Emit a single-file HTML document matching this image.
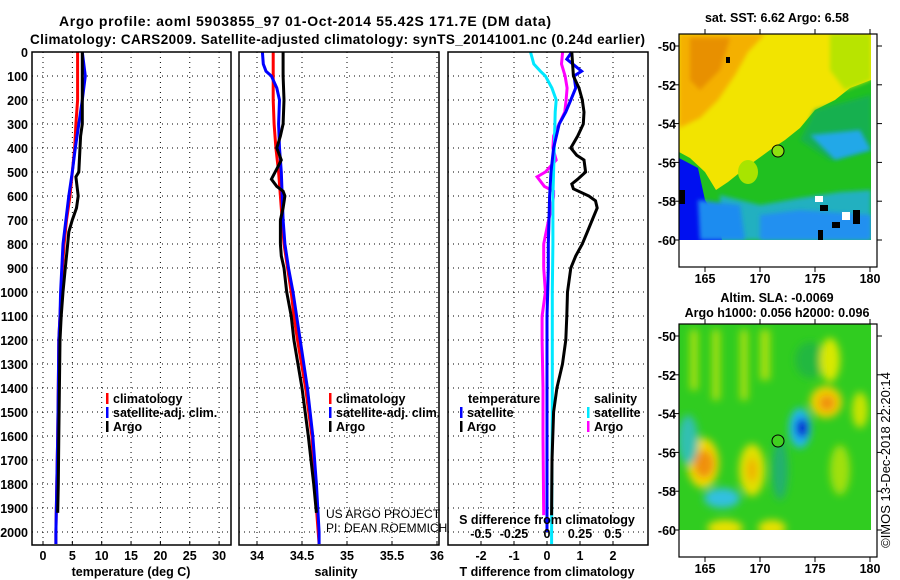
<!DOCTYPE html>
<html><head><meta charset="utf-8"><title>Argo profile</title>
<style>
html,body{margin:0;padding:0;background:#fff;}
svg{display:block;font-family:"Liberation Sans",sans-serif;}
.b{font-weight:bold;font-size:12.5px;}
</style></head>
<body>
<svg id="c" width="900" height="580" viewBox="0 0 900 580" xmlns="http://www.w3.org/2000/svg">
<defs>
<filter id="bl" x="-20%" y="-20%" width="140%" height="140%"><feGaussianBlur stdDeviation="4"/></filter>
<filter id="bl2" x="-20%" y="-20%" width="140%" height="140%"><feGaussianBlur stdDeviation="2"/></filter>
<clipPath id="m1"><rect x="679" y="34" width="192" height="206"/></clipPath>
<clipPath id="m2"><rect x="679" y="324" width="192" height="206"/></clipPath>
</defs>
<text x="305" y="26" text-anchor="middle" font-weight="bold" font-size="14" textLength="492">Argo profile: aoml 5903855_97 01-Oct-2014 55.42S 171.7E (DM data)</text>
<text x="30" y="44" font-weight="bold" font-size="13.5" textLength="615">Climatology: CARS2009. Satellite-adjusted climatology: synTS_20141001.nc (0.24d earlier)</text>

<g id="grid"></g>
<g id="series"></g>
<g id="axes"></g>

<!-- SST map -->
<g>
<g clip-path="url(#m1)">
<rect x="679" y="34" width="192" height="206" fill="#20c020"/>
<polygon points="679,34 871,34 871,80 850,88 835,100 815,110 800,128 785,140 770,150 748,166 728,182 716,190 705,172 690,158 679,152" fill="#f2e400"/>
<polygon points="679,34 765,34 748,52 735,75 718,100 700,118 679,128" fill="#f4b000" filter="url(#bl2)"/>
<polygon points="690,38 730,38 720,70 700,90 690,80" fill="#e89000" filter="url(#bl2)"/>
<polygon points="830,34 871,34 871,80 845,90 830,70" fill="#b8e400" filter="url(#bl2)"/>
<polygon points="815,110 871,95 871,150 830,160 800,140" fill="#18b050" filter="url(#bl2)"/>
<polygon points="810,135 860,130 871,150 835,160" fill="#20a8e8" filter="url(#bl2)"/>
<polygon points="720,195 760,205 800,198 840,192 871,190 871,240 720,240" fill="#20b0c0" filter="url(#bl2)"/>
<polygon points="760,215 800,210 871,215 871,240 760,240" fill="#2090f0" filter="url(#bl2)"/>
<polygon points="679,158 698,168 705,200 718,222 722,240 679,240" fill="#0010f0"/>
<polygon points="698,200 740,205 745,240 700,240" fill="#1e8cf0" filter="url(#bl2)"/>
<ellipse cx="748" cy="172" rx="10" ry="12" fill="#a8e400"/>
<rect x="679" y="190" width="6" height="14" fill="#000"/>
<rect x="820" y="205" width="8" height="6" fill="#000"/>
<rect x="832" y="222" width="8" height="6" fill="#000"/>
<rect x="853" y="210" width="7" height="14" fill="#000"/>
<rect x="818" y="230" width="5" height="10" fill="#000"/>
<rect x="815" y="196" width="8" height="6" fill="#fff"/>
<rect x="842" y="212" width="8" height="8" fill="#fff"/>
<rect x="726" y="57" width="4" height="6" fill="#000"/>
</g>
<rect x="679" y="34" width="198" height="233" fill="none" stroke="#000" stroke-width="1.2"/>
<circle cx="778" cy="151" r="6" fill="#8ee010" stroke="#000" stroke-width="1"/>
<text x="777" y="22" text-anchor="middle" class="b">sat. SST: 6.62 Argo: 6.58</text>
</g>

<!-- SLA map -->
<g>
<g clip-path="url(#m2)">
<rect x="679" y="324" width="192" height="206" fill="#30cc20"/>
<g filter="url(#bl)">
<rect x="690" y="330" width="8" height="60" fill="#a8e010"/>
<rect x="712" y="330" width="8" height="70" fill="#a8e010"/>
<rect x="740" y="330" width="8" height="70" fill="#a8e010"/>
<rect x="760" y="330" width="10" height="50" fill="#a8e010"/>
<ellipse cx="810" cy="360" rx="15" ry="18" fill="#22b840"/>
<ellipse cx="830" cy="360" rx="10" ry="22" fill="#d8e800"/>
<ellipse cx="826" cy="402" rx="16" ry="16" fill="#f0d000"/>
<ellipse cx="827" cy="403" rx="8" ry="8" fill="#f09010"/>
<ellipse cx="860" cy="410" rx="8" ry="18" fill="#c8e400"/>
<ellipse cx="800" cy="428" rx="11" ry="20" fill="#20b8f0"/>
<ellipse cx="802" cy="428" rx="6" ry="10" fill="#0000d0"/>
<ellipse cx="703" cy="463" rx="16" ry="25" fill="#f0d800"/>
<ellipse cx="704" cy="464" rx="10" ry="14" fill="#f09010"/>
<ellipse cx="752" cy="470" rx="13" ry="26" fill="#e0e000"/>
<ellipse cx="752" cy="470" rx="5" ry="12" fill="#f0b000"/>
<ellipse cx="722" cy="498" rx="18" ry="10" fill="#30c0e0"/>
<ellipse cx="688" cy="440" rx="10" ry="25" fill="#30c0b0"/>
<ellipse cx="725" cy="528" rx="18" ry="8" fill="#e8e000"/>
<ellipse cx="772" cy="528" rx="14" ry="8" fill="#e8e000"/>
<ellipse cx="840" cy="470" rx="10" ry="25" fill="#a0e010"/>
<ellipse cx="780" cy="470" rx="8" ry="30" fill="#20b070"/>
</g>
</g>
<rect x="679" y="324" width="198" height="233" fill="none" stroke="#000" stroke-width="1.2"/>
<circle cx="778" cy="441" r="6" fill="#40d020" stroke="#000" stroke-width="1"/>
<text x="777" y="302" text-anchor="middle" class="b">Altim. SLA: -0.0069</text>
<text x="777" y="317" text-anchor="middle" class="b">Argo h1000: 0.056 h2000: 0.096</text>
</g>
<text transform="translate(890,460) rotate(-90)" text-anchor="middle" font-size="13">©IMOS 13-Dec-2018 22:20:14</text>
<text x="326" y="518" font-size="12">US ARGO PROJECT</text>
<text x="326" y="532" font-size="12">PI: DEAN ROEMMICH</text>
</svg>
<script>
// ---- data ----
const tDepth = [0,100,200,300,400,500,600,700,800,900,1000,1100,1200,1400,1600,1800,2000,2050];
const tClim  = [5.9,5.9,5.9,5.6,5.4,5.0,4.6,4.0,3.6,3.3,3.1,2.9,2.7,2.6,2.5,2.35,2.2,2.2];
const tSat   = [6.7,7.2,6.7,6.1,5.5,5.0,4.4,3.9,3.4,3.2,3.0,2.9,2.7,2.6,2.5,2.35,2.2,2.2];
const aDepth = [0,100,200,300,350,400,500,520,600,650,700,750,800,900,1000,1100,1200,1400,1600,1800,1920];
const tArgo  = [6.7,6.7,6.7,6.7,6.4,6.3,6.1,5.6,6.0,5.7,5.0,4.4,4.2,3.8,3.4,3.1,2.9,2.8,2.7,2.6,2.5];
const sDepth = [0,50,80,100,150,200,300,400,500,600,700,800,900,1000,1100,1200,1400,1600,1800,2000,2050];
const sClim  = [34.18,34.18,34.18,34.18,34.18,34.18,34.19,34.21,34.24,34.26,34.28,34.30,34.34,34.38,34.41,34.45,34.54,34.61,34.64,34.68,34.69];
const sSat   = [34.06,34.07,34.10,34.16,34.22,34.25,34.24,34.25,34.27,34.28,34.29,34.31,34.35,34.40,34.44,34.48,34.56,34.62,34.66,34.69,34.69];
const saDepth= [0,100,200,300,350,400,450,480,530,560,580,600,650,700,800,850,900,1000,1100,1200,1400,1600,1800,1920];
const sArgo  = [34.29,34.29,34.30,34.29,34.26,34.22,34.27,34.23,34.16,34.22,34.29,34.31,34.29,34.26,34.26,34.27,34.30,34.33,34.38,34.41,34.50,34.57,34.63,34.66];
const dtDepth= [0,30,80,100,150,200,250,300,400,500,600,700,800,900,1000,1100,1200,1400,1600,1800,2000];
const dtSat  = [0.75,0.6,1.05,0.82,0.87,0.72,0.57,0.37,0.2,0.12,0.08,0.06,0.04,0.04,0.02,0.0,0.0,0.0,0.0,0.0,0.0];
const dtaDepth=[0,100,150,200,250,300,350,400,430,450,500,530,550,570,600,620,650,700,750,800,850,900,1000,1100,1200,1300,1400,1500,1700,1930];
const dtArgo = [0.75,0.8,0.97,1.07,1.12,1.1,0.93,0.72,0.9,1.12,1.17,0.93,0.75,0.8,1.27,1.47,1.52,1.37,1.22,1.07,0.87,0.72,0.62,0.6,0.57,0.47,0.3,0.2,0.15,0.14];
const dsDepth= [0,50,80,100,150,200,250,300,400,500,600,800,1000,1500,2000,2050];
const dsSat  = [-0.125,-0.1,-0.05,-0.012,0.037,0.07,0.062,0.06,0.055,0.05,0.045,0.045,0.04,0.04,0.035,0.035];
const dsaDepth=[0,50,100,150,200,250,300,350,400,450,500,520,560,580,600,650,700,800,900,1000,1100,1200,1400,1600,1930];
const dsArgo = [0.118,0.11,0.137,0.152,0.145,0.135,0.092,0.05,0.045,0.07,-0.012,-0.075,-0.02,0.05,0.05,0.035,0.012,-0.025,-0.025,-0.012,-0.037,-0.037,-0.03,-0.03,-0.025];
const depthTicks = [0,100,200,300,400,500,600,700,800,900,1000,1100,1200,1300,1400,1500,1600,1700,1800,1900,2000];
const tTicks = [0,5,10,15,20,25,30];
const sTicks = [34,34.5,35,35.5,36];
const dTicks = [-2,-1,0,1,2];
const dsTicks = [-0.5,-0.25,0,0.25,0.5];
const dsTickLabels = ['-0.5','-0.25','0','0.25','0.5'];

// ---- scales ----
const TOP=52, BOT=545;
const yD = d => TOP + d*0.24;
const xT = v => 43 + v*5.87;
const xS = v => 257 + (v-34)*90;
const xDT = v => 547 + v*33;
const xDS = v => 547 + v*4*33;
const panels = [
  {name:'temperature-panel', x0:32, x1:231},
  {name:'salinity-panel', x0:239, x1:439},
  {name:'difference-panel', x0:448, x1:648}
];
const NS='http://www.w3.org/2000/svg';
function mk(tag, attrs, parent){const e=document.createElementNS(NS,tag);for(const k in attrs)e.setAttribute(k,attrs[k]);parent.appendChild(e);return e;}
const G=document.getElementById('grid'), S=document.getElementById('series'), A=document.getElementById('axes');

function grid(p, xs, f){
  xs.forEach(v=>{const x=f(v);if(x>p.x0+1&&x<p.x1-1){const l=mk('line',{x1:x,x2:x,y1:TOP,y2:BOT,stroke:'#000','stroke-width':1,'stroke-dasharray':'1,4'},G);

}});
  depthTicks.forEach(d=>{const y=yD(d);if(y>TOP+1){const l=mk('line',{x1:p.x0,x2:p.x1,y1:y,y2:y,stroke:'#000','stroke-width':1,'stroke-dasharray':'1,4'},G);

}});
}
grid(panels[0], tTicks, xT);
grid(panels[1], sTicks, xS);
grid(panels[2], dTicks, xDT);

function line(xs, ys, fx, col, name){
  const pts = xs.map((v,i)=>fx(v).toFixed(1)+','+yD(ys[i]).toFixed(1)).join(' ');
  const pl = mk('polyline',{points:pts,fill:'none',stroke:col,'stroke-width':3,'stroke-linejoin':'miter'},S);
  
  
}
line(tClim,tDepth,xT,'#ff0000','temperature-climatology-line');
line(tSat,tDepth,xT,'#0000ff','temperature-satellite-line');
line(tArgo,aDepth,xT,'#000000','temperature-argo-line');
line(sClim,sDepth,xS,'#ff0000','salinity-climatology-line');
line(sSat,sDepth,xS,'#0000ff','salinity-satellite-line');
line(sArgo,saDepth,xS,'#000000','salinity-argo-line');
line(dsArgo,dsaDepth,xDS,'#ff00ff','salinity-diff-argo-line');
line(dsSat,dsDepth,xDS,'#00e8ff','salinity-diff-satellite-line');
line(dtSat,dtDepth,xDT,'#0000ff','temperature-diff-satellite-line');
line(dtArgo,dtaDepth,xDT,'#000000','temperature-diff-argo-line');

// frames & ticks
panels.forEach(p=>{
  const r=mk('rect',{x:p.x0,y:TOP,width:p.x1-p.x0,height:BOT-TOP,fill:'none',stroke:'#000','stroke-width':1.5},A);
  
  
});
function xTicks(vals, labels, f, y, name){
  vals.forEach((v,i)=>{const x=f(v);
    mk('line',{x1:x,x2:x,y1:BOT,y2:BOT-4,stroke:'#000'},A);
    const t=mk('text',{x:x,y:y,'text-anchor':'middle',class:'b'},A);t.textContent=labels[i];
    
    });
}
xTicks(tTicks, tTicks.map(String), xT, 560, 'temperature-tick-label');
xTicks(sTicks, sTicks.map(String), xS, 560, 'salinity-tick-label');
xTicks(dTicks, dTicks.map(String), xDT, 560, 'tdiff-tick-label');
dsTicks.forEach((v,i)=>{const t=mk('text',{x:xDS(v),y:538,'text-anchor':'middle',class:'b'},A);t.textContent=dsTickLabels[i];

});
depthTicks.forEach(d=>{const t=mk('text',{x:28,y:yD(d)+5,'text-anchor':'end',class:'b'},A);t.textContent=d;

});

function txt(x,y,s,name,extra){const t=mk('text',Object.assign({x:x,y:y,class:'b'},extra||{}),A);t.textContent=s;

return t;}
txt(131,576,'temperature (deg C)','temperature-axis-title',{'text-anchor':'middle'});
txt(336,576,'salinity','salinity-axis-title',{'text-anchor':'middle'});
txt(547,576,'T difference from climatology','tdiff-axis-title',{'text-anchor':'middle'});
txt(547,524,'S difference from climatology','sdiff-axis-title',{'text-anchor':'middle'});

function legend(x,y,col,label){mk('rect',{x:x,y:y-11,width:2.5,height:11,fill:col},A);
const t=txt(x+7,y-1,label,'legend-entry');}
[[106,'#ff0000','climatology'],[329,'#ff0000','climatology']].forEach(a=>legend(a[0],404,a[1],a[2]));
legend(106,418,'#0000ff','satellite-adj. clim.');legend(329,418,'#0000ff','satellite-adj. clim.');
legend(106,432,'#000000','Argo');legend(329,432,'#000000','Argo');
txt(468,403,'temperature','legend-temperature-header');
legend(460,418,'#0000ff','satellite');legend(460,432,'#000000','Argo');
txt(594,403,'salinity','legend-salinity-header');
legend(587,418,'#00e8ff','satellite');legend(587,432,'#ff00ff','Argo');

// map axes
const lonTicks=[165,170,175,180], latTicks=[-50,-52,-54,-56,-58,-60];
const xLon = v => 705 + (v-165)*11;
const yLat1 = v => 46 + (-50 - v)*19.4;
[[0,267],[290,557]].forEach(([off,bot],mi)=>{
  const top = 34+off;
  lonTicks.forEach(v=>{const x=xLon(v);mk('line',{x1:x,x2:x,y1:bot,y2:bot+5,stroke:'#000'},A);mk('line',{x1:x,x2:x,y1:top,y2:top-5,stroke:'#000'},A);
    const t=txt(x,bot+16,String(v),'longitude-tick-label',{'text-anchor':'middle'});});
  latTicks.forEach(v=>{const y=yLat1(v)+off;mk('line',{x1:679,x2:674,y1:y,y2:y,stroke:'#000'},A);mk('line',{x1:877,x2:882,y1:y,y2:y,stroke:'#000'},A);
    const t=txt(676,y+5,String(v),'latitude-tick-label',{'text-anchor':'end'});});
});
</script>
</body></html>
